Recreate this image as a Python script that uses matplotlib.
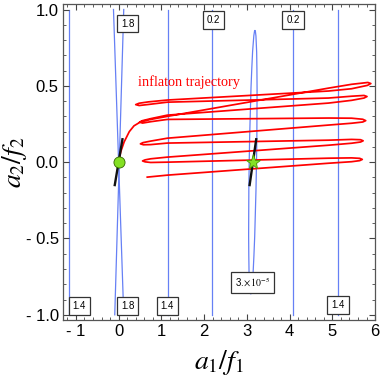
import matplotlib
matplotlib.use("Agg")
import matplotlib.pyplot as plt
from matplotlib.patches import Ellipse
from matplotlib.ticker import MultipleLocator

plt.rcParams['mathtext.fontset'] = 'stix'

# inflaton trajectory, points: open end -> hairpins -> curve into the origin
traj_x = [0.67, 1.14, 4.91,
          5.45, 5.64, 5.70, 5.64, 5.45, 4.91,           # right turn 1
          1.14, 0.75, 0.62, 0.56, 0.62, 0.75, 1.14,     # left turn 1
          4.91, 5.45, 5.66, 5.72, 5.66, 5.45, 4.91,     # right turn 2
          1.14, 0.75, 0.58, 0.51, 0.57, 0.75, 1.14,     # left turn 2
          4.91, 5.45, 5.71, 5.78, 5.71, 5.45, 4.91,     # right turn 3
          1.14, 0.75, 0.56, 0.49, 0.56, 0.75, 1.14,     # left turn 3
          4.91, 5.45, 5.74, 5.81, 5.74, 5.45, 4.91,     # right turn 4
          1.14, 0.70, 0.48, 0.40, 0.48, 0.70, 1.14,     # left turn 4
          4.91, 5.45, 5.82, 5.90, 5.83, 5.45, 4.91,     # right turn 5
          1.14, 0.75, 0.52, 0.36, 0.25, 0.13, 0.05, 0.0]
traj_y = [-0.098, -0.085, -0.007,
          0.003, 0.010, 0.018, 0.025, 0.028, 0.026,
          0.0, -0.002, 0.002, 0.008, 0.015, 0.022, 0.033,
          0.111, 0.124, 0.132, 0.140, 0.147, 0.149, 0.144,
          0.125, 0.115, 0.114, 0.120, 0.128, 0.138, 0.157,
          0.243, 0.255, 0.263, 0.272, 0.281, 0.288, 0.289,
          0.280, 0.265, 0.256, 0.262, 0.272, 0.285, 0.308,
          0.387, 0.405, 0.420, 0.430, 0.437, 0.432, 0.420,
          0.393, 0.378, 0.371, 0.377, 0.386, 0.395, 0.407,
          0.466, 0.481, 0.503, 0.515, 0.522, 0.510, 0.485,
          0.300, 0.280, 0.265, 0.238, 0.200, 0.133, 0.068, 0.0]

# straight contour lines (x position) spanning a2/f2 = -1 .. 1
contour_x = [-1.155, 1.147, 2.19, 4.08, 5.12]
# the two crossing contour lines near the origin: x at top (a2=1) and bottom (a2=-1)
cross_top_x = [-0.12, 0.12]
cross_bottom_x = [0.12, -0.09]
# narrow closed contour around the second minimum
loop_center = (3.14, 0.0)
loop_width = 0.17
loop_height = 1.73
loop_angle = -3.3

# contour labels
label_text = ['1.8', '0.2', '0.2', '1.4', '1.8', '1.4', '1.4', r'3.$\times\,10^{-5}$']
label_x = [0.21, 2.21, 4.08, -0.92, 0.21, 1.14, 5.13, 3.14]
label_y = [0.908, 0.93, 0.93, -0.944, -0.94, -0.94, -0.934, -0.79]

# the two marked points and the short black directions through them
minima_x = [0.0, 3.1416]
minima_y = [0.0, 0.0]
seg_dx = [0.09, 0.077]
seg_dy = [0.15, 0.15]

x_ticks = [-1, 0, 1, 2, 3, 4, 5, 6]
x_ticklabels = ['- 1', '0', '1', '2', '3', '4', '5', '6']
y_ticks = [-1.0, -0.5, 0.0, 0.5, 1.0]
y_ticklabels = ['- 1.0', '- 0.5', '0.0', '0.5', '1.0']

blue = '#6680f5'
green = '#84e024'

fig = plt.figure(figsize=(3.82, 3.78), dpi=100)
ax = fig.add_axes([0.165, 0.153, 0.817, 0.836])

for cx in contour_x:
    ax.plot([cx, cx], [-1, 1], color=blue, lw=0.9, zorder=1)
for xt, xb in zip(cross_top_x, cross_bottom_x):
    ax.plot([xt, xb], [1, -1], color=blue, lw=0.9, zorder=1)
ax.add_patch(Ellipse(loop_center, loop_width, loop_height, angle=loop_angle,
                     fill=False, ec=blue, lw=0.9, zorder=1))

ax.plot(traj_x, traj_y, color='red', lw=1.25, solid_joinstyle='round', zorder=2)
ax.text(1.64, 0.525, 'inflaton trajectory', color='red', fontsize=10.3,
        family='Liberation Serif', ha='center', va='center', zorder=3)

for mx, my, dx, dy in zip(minima_x, minima_y, seg_dx, seg_dy):
    ax.plot([mx - dx, mx + dx], [my - dy, my + dy], color='#111111', lw=1.7, zorder=3)
ax.plot(minima_x[0], minima_y[0], 'o', ms=8, mfc=green, mec='#336600', mew=0.6, zorder=4)
ax.plot(minima_x[1], minima_y[1], '*', ms=11, mfc=green, mec='#4d9900', mew=0.6, zorder=4)

for t, lx, ly in zip(label_text, label_x, label_y):
    ax.text(lx, ly, t, fontsize=7, family='Liberation Sans', ha='center', va='center', zorder=5,
            bbox=dict(boxstyle='square,pad=0.4', fc='white', ec='#333333', lw=0.9))

ax.set_xlim(-1.3, 5.95)
ax.set_ylim(-1.035, 1.035)
ax.set_xticks(x_ticks)
ax.set_xticklabels(x_ticklabels)
ax.set_yticks(y_ticks)
ax.set_yticklabels(y_ticklabels)
ax.xaxis.set_minor_locator(MultipleLocator(0.2))
ax.yaxis.set_minor_locator(MultipleLocator(0.1))
ax.tick_params(which='both', direction='in', top=True, right=True, color='#444444')
ax.tick_params(which='major', length=4, width=0.8, labelsize=12, pad=3)
ax.tick_params(which='minor', length=2, width=0.6)
for lab in ax.get_xticklabels() + ax.get_yticklabels():
    lab.set_family('Liberation Sans')
for sp in ax.spines.values():
    sp.set_color('#555555')
    sp.set_linewidth(0.9)

ax.set_xlabel(r'$a_1/f_1$', fontsize=20, labelpad=6)
ax.set_ylabel(r'$a_2/f_2$', fontsize=20, labelpad=-2)

fig.savefig('out.png', dpi=100)
